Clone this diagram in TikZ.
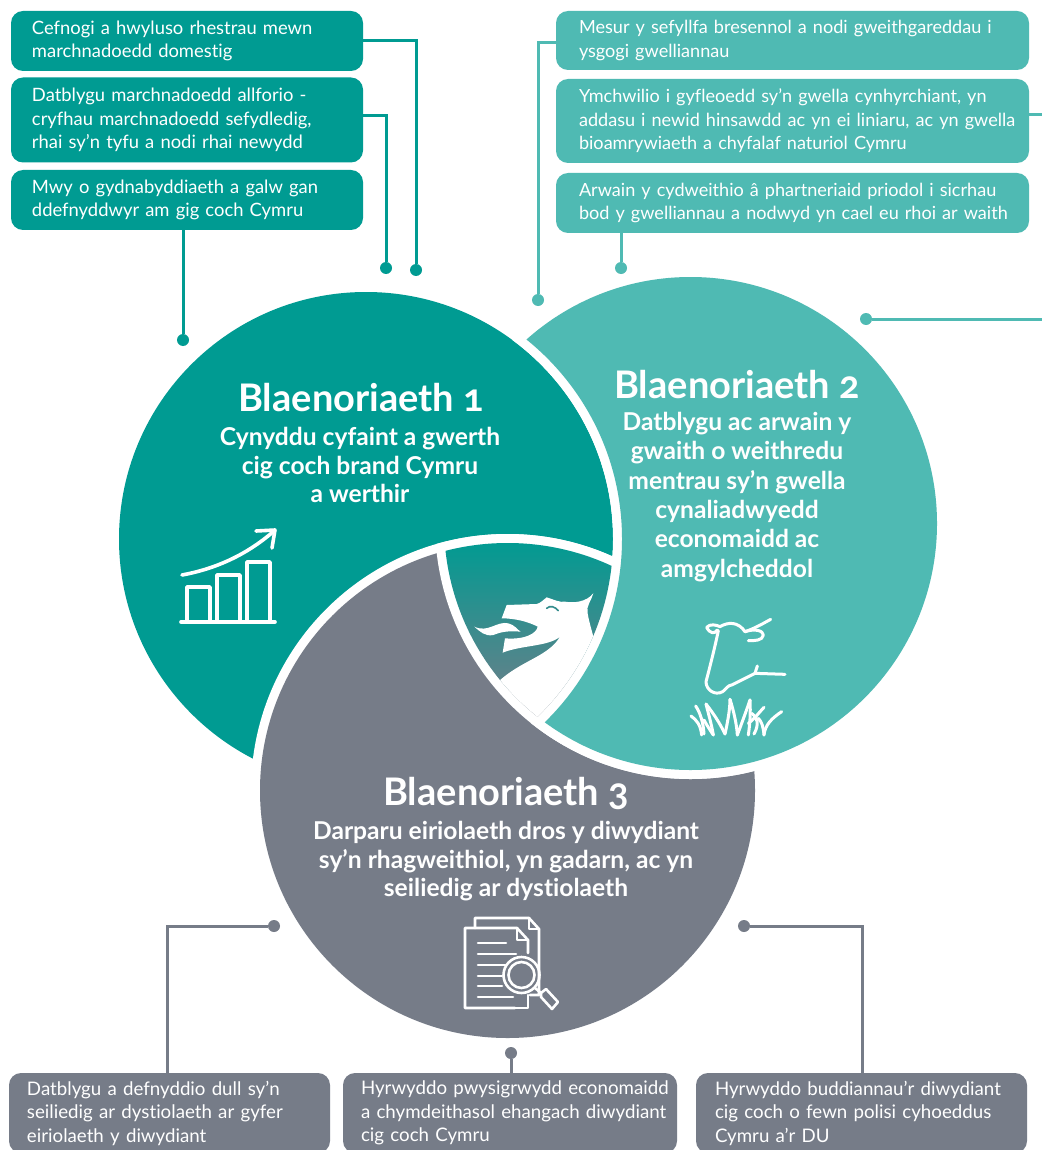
\documentclass[tikz,border=0pt]{standalone}
\usepackage{fontspec}
\setmainfont{Lato}[Ligatures=NoCommon]
\usetikzlibrary{calc}
\definecolor{tealA}{HTML}{009B92}
\definecolor{tealB}{HTML}{4FBAB3}
\definecolor{greyC}{HTML}{767C88}
\tikzset{
  x=1pt,y=-1pt,
  boxA/.style={fill=tealA,rounded corners=12pt,text=white,align=left,font=\fontsize{18.4}{23.5}\selectfont,inner sep=0pt},
  boxB/.style={boxA,fill=tealB,font=\fontsize{18.1}{23.5}\selectfont},
  boxC/.style={boxA,fill=greyC,font=\fontsize{18.7}{23.5}\selectfont},
  lead/.style={execute at begin node={\leftskip=#1pt\relax}},
  dotA/.style={circle,fill=tealA,minimum size=12pt,inner sep=0pt},
  dotB/.style={dotA,fill=tealB},
  dotC/.style={dotA,fill=greyC},
  linkA/.style={draw=tealA,line width=3pt},
  linkB/.style={draw=tealB,line width=3pt},
  linkC/.style={draw=greyC,line width=3pt},
  head/.style={text=white,font=\bfseries\fontsize{38}{40}\selectfont\addfontfeatures{Numbers=OldStyle},inner sep=0pt},
  sub/.style={text=white,font=\bfseries\fontsize{24.6}{29.3}\selectfont,align=center,inner sep=0pt},
  subtight/.style={sub,font=\bfseries\fontsize{24.6}{28.5}\selectfont},
  icon/.style={draw=white,line width=3.6pt,line cap=round,line join=round},
  thin icon/.style={draw=white,line width=2.6pt,line cap=round,line join=round},
  cow icon/.style={draw=white,line width=3pt,line cap=round,line join=round},
}
\begin{document}
\begin{tikzpicture}
\useasboundingbox (0,0) rectangle (1042,1150);
\clip (0,0) rectangle (1042,1150);
\fill[white] (0,0) rectangle (1042,1150);
\coordinate (cA) at (366,539);
\coordinate (cB) at (690.5,523.5);
\coordinate (cC) at (507.5,790.5);
\def\rA{247}\def\rB{246.5}\def\rC{247.5}\def\ring{9}
% circles with cyclic overlap
\fill[tealA] (cA) circle[radius=\rA];
\fill[white] (cC) circle[radius=\rC+\ring];
\fill[greyC] (cC) circle[radius=\rC];
\begin{scope}
  \clip (cC) circle[radius=\rC+\ring];
  \fill[white] (cB) circle[radius=\rB+\ring];
\end{scope}
\begin{scope}[even odd rule]
  \clip (0,0) rectangle (1042,1150) (cA) circle[radius=\rA];
  \fill[white] (cB) circle[radius=\rB+\ring];
\end{scope}
\begin{scope}[even odd rule]
  \clip (0,0) rectangle (1042,1150) (cA) circle[radius=\rA+\ring];
  \fill[tealB] (cB) circle[radius=\rB];
\end{scope}
% centre wedge
\begin{scope}
  \clip (cA) circle[radius=\rA];
  \clip (cB) circle[radius=\rB];
  \clip (cC) circle[radius=\rC];
  \shade[shading angle=-30,top color=tealA,bottom color=greyC] (440,540) rectangle (620,720);
  \begin{scope}[shift={(465,590)},x=0.3333pt,y=-0.3333pt]
    \fill[white] (110,85) -- (125,45) -- (215,42) .. controls (225,40) and (235,30) .. (245,22)
      .. controls (270,30) and (285,38) .. (300,35) .. controls (330,40) and (365,35) .. (385,10)
      .. controls (380,30) and (362,50) .. (368,70) .. controls (372,95) and (380,120) .. (385,140)
      -- (430,140) -- (430,420) -- (105,420) -- (100,275)
      .. controls (170,210) and (250,200) .. (285,140)
      .. controls (250,170) and (170,165) .. (113,188) -- (120,145)
      .. controls (180,150) and (215,130) .. (218,110)
      .. controls (190,95) and (150,85) .. (110,85) -- cycle;
    \fill[white] (28,110) .. controls (70,130) and (95,92) .. (130,100)
      .. controls (150,105) and (155,118) .. (167,125)
      .. controls (130,122) and (110,125) .. (85,135)
      .. controls (60,140) and (45,125) .. (28,110) -- cycle;
    \draw[draw=tealA!55!greyC,line width=1.6pt,line cap=round] (245,55) .. controls (255,45) and (270,50) .. (280,62);
  \end{scope}
\end{scope}
% boxes, teal left
\node[boxA,lead=20,minimum width=352pt,minimum height=60pt,text width=350pt] (a1) at (187,41) {Cefnogi a hwyluso rhestrau mewn\\marchnadoedd domestig};
\node[boxA,lead=20,minimum width=352pt,minimum height=85pt,text width=350pt] (a2) at (187,120) {Datblygu marchnadoedd allforio -\\cryfhau marchnadoedd sefydledig,\\rhai sy’n tyfu a nodi rhai newydd};
\node[boxA,lead=20,minimum width=352pt,minimum height=60pt,text width=350pt] (a3) at (187,200) {Mwy o gydnabyddiaeth a galw gan\\ddefnyddwyr am gig coch Cymru};
% boxes, teal right
\node[boxB,lead=22,minimum width=473pt,minimum height=59pt,text width=471pt] (b1) at (792.5,40.5) {Mesur y sefyllfa bresennol a nodi gweithgareddau i\\ysgogi gwelliannau};
\node[boxB,lead=22,minimum width=473pt,minimum height=84pt,text width=471pt] (b2) at (792.5,121) {Ymchwilio i gyfleoedd sy’n gwella cynhyrchiant, yn\\addasu i newid hinsawdd ac yn ei liniaru, ac yn gwella\\bioamrywiaeth a chyfalaf naturiol Cymru};
\node[boxB,lead=22,minimum width=473pt,minimum height=60pt,text width=471pt] (b3) at (792.5,203) {Arwain y cydweithio â phartneriaid priodol i sicrhau\\bod y gwelliannau a nodwyd yn cael eu rhoi ar waith};
% boxes, grey bottom
\node[boxC,lead=17,minimum width=321pt,minimum height=80pt,text width=319pt] (c1) at (169.5,1113) {Datblygu a defnyddio dull sy’n\\seiliedig ar dystiolaeth ar gyfer\\eiriolaeth y diwydiant};
\node[boxC,lead=17,minimum width=334pt,minimum height=80pt,text width=332pt] (c2) at (510,1113) {Hyrwyddo pwysigrwydd economaidd\\a chymdeithasol ehangach diwydiant\\cig coch Cymru};
\node[boxC,lead=18,minimum width=331pt,minimum height=80pt,text width=329pt] (c3) at (861.5,1113) {Hyrwyddo buddiannau’r diwydiant\\cig coch o fewn polisi cyhoeddus\\Cymru a’r DU};
% dots
\node[dotA] (da1) at (416,270) {};
\node[dotA] (da2) at (386,268) {};
\node[dotA] (da3) at (183,340) {};
\node[dotB] (db1) at (538,300) {};
\node[dotB] (db3) at (621,268) {};
\node[dotB] (db4) at (866,319) {};
\node[dotC] (dc1) at (274,926) {};
\node[dotC] (dc2) at (511,1053) {};
\node[dotC] (dc3) at (744,926) {};
\coordinate (edgeR) at (1042,319);
\coordinate (edgeS) at (1042,115);
% connectors
\draw[linkA] (a1.east |- 0,41) -| (da1);
\draw[linkA] (a2.east |- 0,116) -| (da2);
\draw[linkA] (a3.south -| da3) -- (da3);
\draw[linkB] (b1.west |- 0,43) -| (db1);
\draw[linkB] (b2.east |- edgeS) -- (edgeS);
\draw[linkB] (b3.south -| db3) -- (db3);
\draw[linkB] (db4) -- (edgeR);
\draw[linkC] (dc1) -| (c1.north -| 167,0);
\draw[linkC] (dc2) -- (c2.north -| dc2);
\draw[linkC] (dc3) -| (c3.north -| 862,0);
% headings
\node[head] (h1) at (361,398) {Blaenoriaeth 1};
\node[subtight] (s1) at (360,465) {Cynyddu cyfaint a gwerth\\cig coch brand Cymru\\a werthir};
\node[head] (h2) at (737,385) {Blaenoriaeth 2};
\node[sub] (s2) at (737,497) {Datblygu ac arwain y\\gwaith o weithredu\\mentrau sy’n gwella\\cynaliadwyedd\\economaidd ac\\amgylcheddol};
\node[head] (h3) at (506,793) {Blaenoriaeth 3};
\node[subtight] (s3) at (506,861.5) {Darparu eiriolaeth dros y diwydiant\\sy’n rhagweithiol, yn gadarn, ac yn\\seiliedig ar dystiolaeth};
% chart icon
\draw[icon] (181,622) -- (275,622);
\draw[icon] (187,620) -- (187,587) -- (210,587) -- (210,620);
\draw[icon] (217,620) -- (217,575) -- (240,575) -- (240,620);
\draw[icon] (247,620) -- (247,562) -- (270,562) -- (270,620);
\draw[icon] (182,575) .. controls (220,568) and (250,552) .. (274,531);
\draw[icon] (256,531) -- (275,530) -- (272,548);
% cow and grass icon
\begin{scope}[shift={(680,610)},x=0.3333pt,y=-0.3333pt]
  \draw[cow icon] (112,60) .. controls (105,72) and (90,72) .. (80,52)
    .. controls (90,40) and (110,45) .. (120,50)
    .. controls (145,35) and (175,35) .. (195,65)
    .. controls (225,55) and (250,40) .. (272,28);
  \draw[cow icon] (115,62) .. controls (105,110) and (90,170) .. (78,215)
    .. controls (78,240) and (105,258) .. (128,245)
    .. controls (140,235) and (145,225) .. (155,225) -- (225,190) -- (315,193);
  \draw[cow icon] (225,190) -- (232,168);
  \draw[cow icon] (195,65) .. controls (225,55) and (250,62) .. (250,75)
    .. controls (248,92) and (225,92) .. (205,92);
  % grass
  \draw[cow icon] (65,375) .. controls (62,345) and (50,330) .. (33,318);
  \draw[cow icon] (72,372) .. controls (70,340) and (62,310) .. (47,288);
  \draw[cow icon] (100,375) .. controls (95,345) and (85,310) .. (78,282);
  \draw[cow icon] (72,330) .. controls (80,345) and (90,360) .. (100,375);
  \draw[cow icon] (78,282) .. controls (100,310) and (120,340) .. (135,372);
  \draw[cow icon] (135,372) .. controls (142,340) and (150,300) .. (150,268);
  \draw[cow icon] (150,268) .. controls (160,300) and (170,340) .. (172,375);
  \draw[cow icon] (172,375) .. controls (185,340) and (200,300) .. (210,270);
  \draw[cow icon] (210,270) .. controls (212,310) and (210,340) .. (205,375);
  \draw[cow icon] (205,340) .. controls (225,325) and (235,310) .. (252,292);
  \draw[cow icon] (215,310) .. controls (230,320) and (240,340) .. (222,372);
  \draw[cow icon] (252,375) .. controls (255,345) and (275,325) .. (305,305);
  \draw[cow icon] (252,375) .. controls (250,350) and (245,335) .. (235,325);
\end{scope}
% document icon
\draw[thin icon] (475,928) -- (475,918) -- (529,918) -- (539,929) -- (539,995) -- (530,995);
\draw[thin icon] (529,918) -- (529,929) -- (539,929);
\draw[thin icon] (515,1008) -- (465,1008) -- (465,928) -- (517,928) -- (528,940) -- (528,953);
\draw[thin icon] (517,928) -- (517,940) -- (528,940);
\draw[thin icon] (528,995) -- (528,1008) -- (515,1008);
\draw[thin icon] (478,943) -- (506,943);
\draw[thin icon] (478,954) -- (516,954);
\draw[thin icon] (478,965) -- (505,965);
\draw[thin icon] (478,976) -- (502,976);
\draw[thin icon] (478,986) -- (502,986);
\draw[thin icon] (478,997) -- (513,997);
\draw[thin icon] (521.5,975) circle[radius=18];
\draw[thin icon] (521.5,975) circle[radius=13];
\draw[thin icon] (535,988) -- (541,993);
\draw[thin icon] (541,993) -- (546,989) -- (558,1002) -- (552,1009) -- (541,997) -- cycle;
\end{tikzpicture}
\end{document}
